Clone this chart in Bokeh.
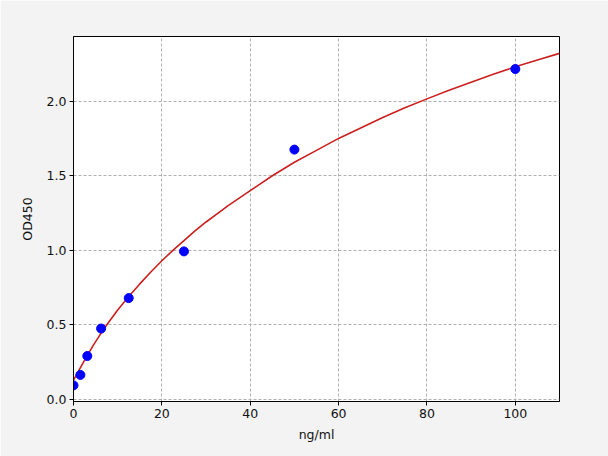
from bokeh.plotting import figure
from bokeh.models import Range1d, FixedTicker, NumeralTickFormatter
from bokeh.embed import file_html
from bokeh.resources import INLINE

# Standard points
conc = [0, 1.56, 3.125, 6.25, 12.5, 25, 50, 100]
od = [0.095, 0.165, 0.292, 0.476, 0.68, 0.993, 1.675, 2.215]

# Fitted curve, values
curve_x = [0, 1.5, 3, 4.5, 6.25, 8, 10, 12.5, 15, 17.5, 20, 22.5, 25, 27.5, 30, 32.5,
           35, 37.5, 40, 45, 50, 55, 60, 65, 70, 75, 80, 85, 90, 95, 100, 105, 110]
curve_y = [0.13, 0.21, 0.29, 0.365, 0.445, 0.52, 0.60, 0.69, 0.775, 0.855, 0.93, 1.0,
           1.065, 1.13, 1.19, 1.245, 1.30, 1.35, 1.40, 1.50, 1.59, 1.67, 1.75, 1.82,
           1.89, 1.955, 2.015, 2.072, 2.127, 2.18, 2.23, 2.276, 2.32]

x_ticks = [0, 20, 40, 60, 80, 100]
y_ticks = [0.0, 0.5, 1.0, 1.5, 2.0]

BG = "#f3f3f3"
FONT = "DejaVu Sans"

p = figure(width=608, height=456, output_backend="svg", toolbar_location=None,
           x_range=Range1d(0, 110), y_range=Range1d(-0.013, 2.433),
           min_border_left=73, min_border_right=49, min_border_top=36,
           min_border_bottom=55)
p.border_fill_color = BG
p.background_fill_color = "white"
p.outline_line_color = "black"
p.outline_line_width = 1

p.line(curve_x, curve_y, line_color="#cc1f1f", line_width=1.6)
p.scatter(conc, od, size=9, fill_color="#0000ff", line_color="#0000ff")

p.xaxis.ticker = FixedTicker(ticks=x_ticks)
p.yaxis.ticker = FixedTicker(ticks=y_ticks)
p.yaxis.formatter = NumeralTickFormatter(format="0.0")
p.xaxis.axis_label = "ng/ml"
p.yaxis.axis_label = "OD450"

for ax in (p.xaxis, p.yaxis):
    ax.axis_line_color = "black"
    ax.major_tick_line_color = "black"
    ax.major_tick_in = 0
    ax.major_tick_out = 4
    ax.minor_tick_line_color = None
    ax.major_label_text_font = FONT
    ax.major_label_text_font_size = "12.5px"
    ax.major_label_text_color = "#111111"
    ax.axis_label_text_font = FONT
    ax.axis_label_text_font_size = "12.5px"
    ax.axis_label_text_font_style = "normal"
    ax.axis_label_text_color = "#111111"
p.xaxis.axis_label_standoff = 6
p.yaxis.axis_label_standoff = 9
p.xaxis.major_label_standoff = 3
p.yaxis.major_label_standoff = 3

for g in (p.xgrid, p.ygrid):
    g.grid_line_color = "#b0b0b0"
    g.grid_line_dash = "3 2"
    g.grid_line_width = 1

html = file_html(p, INLINE)
html = html.replace("<body>", '<body style="background:%s">' % BG, 1)
open("out.html", "w").write(html)
